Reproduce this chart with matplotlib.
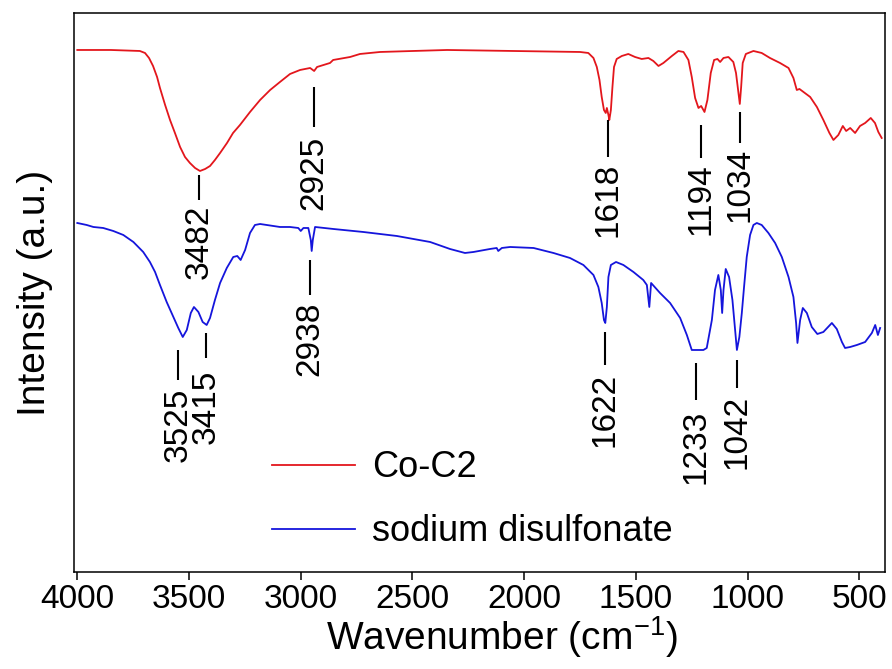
import matplotlib
matplotlib.use("Agg")
import matplotlib.pyplot as plt

plt.rcParams['font.family'] = ['Liberation Sans', 'DejaVu Sans']
plt.rcParams['mathtext.fontset'] = 'custom'
plt.rcParams['mathtext.rm'] = 'Liberation Sans'
plt.rcParams['mathtext.default'] = 'regular'

# ---- data (wavenumber in cm-1, intensity in arbitrary units) ----
coc2_wn = [4000, 3850, 3720, 3697, 3679, 3661, 3643, 3630, 3607, 3585, 3563, 3540,
           3518, 3496, 3473, 3451, 3428, 3406, 3384, 3361, 3330, 3303, 3272, 3227,
           3182, 3137, 3093, 3048, 3003, 2958, 2940, 2927, 2869, 2855, 2779, 2735,
           2645, 2497, 2345, 2050, 1750, 1713, 1690, 1675, 1663, 1653, 1643, 1635,
           1630, 1623, 1619, 1612, 1605, 1598, 1586, 1563, 1534, 1504, 1474, 1444,
           1422, 1399, 1377, 1339, 1310, 1287, 1265, 1250, 1235, 1220, 1208, 1193,
           1180, 1165, 1150, 1135, 1123, 1108, 1086, 1064, 1052, 1041, 1035, 1029,
           1022, 1008, 974, 937, 900, 855, 817, 795, 780, 768, 750, 720, 690, 661,
           634, 616, 594, 574, 559, 541, 519, 497, 474, 449, 430, 415, 400]
coc2_int = [523, 523, 522, 520, 515, 507, 496, 485, 468, 453, 440, 426,
            416, 410, 405, 402, 404, 407, 413, 420, 430, 440, 448, 461,
            473, 483, 491, 499, 503, 505, 502, 506, 510, 513, 516, 519,
            521, 522, 523, 522, 521, 520, 515, 506, 493, 476, 463, 460,
            465, 458, 453, 463, 486, 506, 514, 517, 519, 516, 514, 515,
            512, 507, 510, 517, 522, 521, 513, 496, 475, 465, 467, 461,
            473, 500, 513, 514, 511, 515, 516, 511, 500, 480, 469, 486,
            510, 519, 522, 520, 515, 510, 505, 495, 483, 484, 481, 476, 466, 453,
            440, 433, 438, 447, 442, 445, 440, 447, 450, 455, 450, 441, 435]

sds_wn = [4000, 3958, 3928, 3884, 3839, 3794, 3749, 3705, 3675, 3652, 3630, 3600,
          3570, 3548, 3528, 3510, 3492, 3478, 3458, 3439, 3421, 3406, 3384, 3361,
          3331, 3302, 3284, 3269, 3249, 3227, 3205, 3182, 3093, 3048, 3011, 3000,
          2988, 2966, 2955, 2951, 2946, 2936, 2854, 2720, 2570, 2421, 2332, 2265,
          2227, 2153, 2123, 2116, 2100, 2063, 1958, 1869, 1795, 1735, 1690, 1668,
          1653, 1643, 1637, 1630, 1623, 1612, 1589, 1556, 1511, 1467, 1451, 1440,
          1432, 1392, 1347, 1302, 1272, 1250, 1198, 1183, 1160, 1146, 1131, 1120,
          1114, 1108, 1098, 1083, 1068, 1056, 1048, 1037, 1026, 1016, 1004, 989,
          974, 959, 937, 907, 877, 847, 817, 795, 783, 777, 765, 753, 735, 713,
          688, 661, 623, 601, 578, 564, 541, 511, 474, 444, 429, 417, 407]
sds_int = [350, 348, 346, 345, 342, 338, 331, 321, 311, 301, 288, 271,
           256, 245, 236, 243, 260, 266, 261, 251, 248, 255, 273, 290,
           305, 316, 317, 313, 323, 340, 348, 349, 346, 346, 345, 342,
           345, 345, 333, 322, 333, 346, 344, 341, 337, 331, 324, 320,
           321, 324, 325, 322, 325, 326, 325, 320, 315, 308, 298, 286,
           270, 253, 250, 266, 296, 308, 311, 308, 301, 293, 288, 266,
           290, 280, 270, 255, 238, 223, 223, 225, 253, 283, 298, 283,
           260, 283, 304, 296, 273, 243, 223, 236, 260, 286, 316, 338,
           348, 350, 348, 340, 330, 316, 296, 276, 250, 230, 253, 265, 260, 246,
           239, 241, 250, 244, 231, 225, 226, 228, 231, 240, 248, 238, 245]

series_names = ["Co-C2", "sodium disulfonate"]
series_colors = ["#e3161c", "#1515dc"]

# peak annotations: label, x position, line top, line bottom, text top
coc2_labels = ["3482", "2925", "1618", "1194", "1034"]
coc2_lab_x = [3454, 2940, 1624, 1209, 1034]
coc2_line_top = [398, 486, 453, 448, 461]
coc2_line_bot = [373, 446, 416, 415, 430]
coc2_text_top = [368, 437, 410, 410, 425]

sds_labels = ["3525", "3415", "2938", "1622", "1233", "1042"]
sds_lab_x = [3548, 3425, 2958, 1638, 1230, 1048]
sds_line_top = [223, 240, 313, 241, 210, 213]
sds_line_bot = [193, 215, 278, 208, 173, 185]
sds_text_top = [185, 203, 271, 200, 163, 178]

xticks = [4000, 3500, 3000, 2500, 2000, 1500, 1000, 500]

# ---- figure ----
fig = plt.figure(figsize=(8.92, 6.69), dpi=100)
ax = fig.add_axes([0.0824, 0.145, 0.9098, 0.8356])

ax.plot(coc2_wn, coc2_int, color=series_colors[0], lw=1.3, label=series_names[0])
ax.plot(sds_wn, sds_int, color=series_colors[1], lw=1.3, label=series_names[1])

for labels, xs, tops, bots, ttops in [
        (coc2_labels, coc2_lab_x, coc2_line_top, coc2_line_bot, coc2_text_top),
        (sds_labels, sds_lab_x, sds_line_top, sds_line_bot, sds_text_top)]:
    ax.vlines(xs, bots, tops, color='black', lw=1.5)
    for lab, x, tt in zip(labels, xs, ttops):
        ax.text(x, tt, lab, rotation=90, ha='center', va='top', fontsize=24)

ax.set_xlim(4017, 385)
ax.set_ylim(1, 560)
ax.set_xticks(xticks)
ax.set_xticklabels([str(t) for t in xticks], fontsize=24)
ax.set_yticks([])
ax.tick_params(axis='x', direction='out', length=6, width=1.1, pad=3, top=False)

for s in ax.spines.values():
    s.set_linewidth(1.1)

ax.set_xlabel('Wavenumber (cm$^{-1}$)', fontsize=28)
ax.xaxis.set_label_coords(0.528, -0.075)
ax.set_ylabel('Intensity (a.u.)', fontsize=28)
ax.yaxis.set_label_coords(-0.025, 0.5)

leg = ax.legend(loc='center left', bbox_to_anchor=(0.245, 0.129), frameon=False,
                fontsize=26, handlelength=2.3, handletextpad=0.47,
                labelspacing=0.8, borderpad=0, borderaxespad=0)

fig.savefig('out.png', dpi=100)
